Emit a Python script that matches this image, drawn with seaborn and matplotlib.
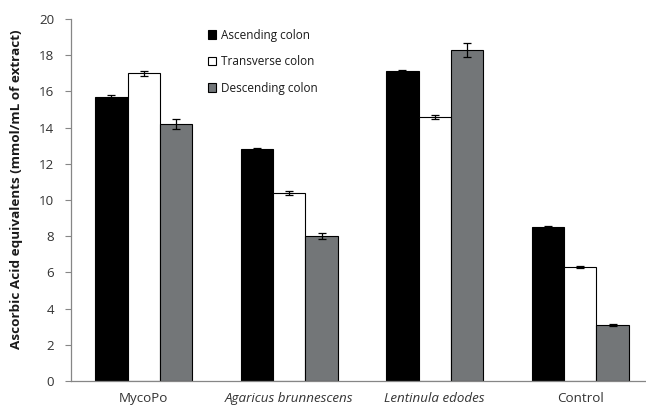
import pandas as pd
import numpy as np
import matplotlib
matplotlib.use("Agg")
import matplotlib.pyplot as plt
import seaborn as sns
from matplotlib.patches import Patch

groups = ["MycoPo", "Agaricus brunnescens", "Lentinula edodes", "Control"]
sections = ["Ascending colon", "Transverse colon", "Descending colon"]
ascending = [15.7, 12.8, 17.1, 8.5]
transverse = [17.0, 10.4, 14.6, 6.3]
descending = [14.2, 8.0, 18.3, 3.1]
err_ascending = [0.10, 0.08, 0.10, 0.05]
err_transverse = [0.15, 0.10, 0.10, 0.05]
err_descending = [0.30, 0.15, 0.40, 0.05]
colors = ["#000000", "#ffffff", "#727679"]

sns.set_style("white")
plt.rcParams["font.family"] = ["Open Sans", "DejaVu Sans"]

rows = []
for sec, vals in zip(sections, [ascending, transverse, descending]):
    for g, v in zip(groups, vals):
        rows.append({"group": g, "section": sec, "value": v})
df = pd.DataFrame(rows)
errs = [err_ascending, err_transverse, err_descending]

fig = plt.figure(figsize=(6.46, 4.07), dpi=100)
ax = fig.add_axes([71 / 646, 1 - 381 / 407, 582 / 646, 362 / 407])

sns.barplot(data=df, x="group", y="value", hue="section", palette=colors,
            errorbar=None, width=0.67, edgecolor="black", linewidth=0.8,
            legend=False, ax=ax)

for cont, e in zip(ax.containers, errs):
    xs = [p.get_x() + p.get_width() / 2 for p in cont]
    ys = [p.get_height() for p in cont]
    ax.errorbar(xs, ys, yerr=e, fmt="none", ecolor="black", elinewidth=0.9,
                capsize=3, capthick=0.9)

ax.set_xlim(-0.5, 3.5)
ax.set_ylim(0, 20)
ax.set_yticks(range(0, 21, 2))
ax.set_xlabel("")
ax.set_ylabel("Ascorbic Acid equivalents (mmol/mL of extract)", fontsize=9.7,
              fontweight="bold", color="#1a1a1a")
ax.yaxis.set_label_coords(-0.083, 0.53)

ax.set_xticks(range(4))
ax.set_xticklabels(groups)
for lbl in ax.get_xticklabels()[1:3]:
    lbl.set_style("italic")
ax.set_xticks([0.5, 1.5, 2.5, 3.5, -0.5], minor=True)
ax.tick_params(axis="x", which="major", length=0, pad=8, labelsize=9.6, colors="#333333")
ax.tick_params(axis="x", which="minor", length=4, width=0.8, color="#868686", direction="out")
ax.tick_params(axis="y", length=4, width=0.8, color="#868686", labelsize=9.6,
               labelcolor="#333333", direction="out", left=True, pad=8)

for s in ["top", "right"]:
    ax.spines[s].set_visible(False)
for s in ["left", "bottom"]:
    ax.spines[s].set_color("#868686")
    ax.spines[s].set_linewidth(0.9)

handles = [Patch(facecolor=c, edgecolor="black", linewidth=0.8) for c in colors]
fig.legend(handles, sections, loc="upper left", bbox_to_anchor=(197 / 646, 1 - 18 / 407),
           frameon=False, fontsize=8.5, handlelength=0.75, handleheight=0.75,
           handletextpad=0.35, labelspacing=1.15, labelcolor="#1a1a1a")

fig.savefig("out.png", dpi=100)
